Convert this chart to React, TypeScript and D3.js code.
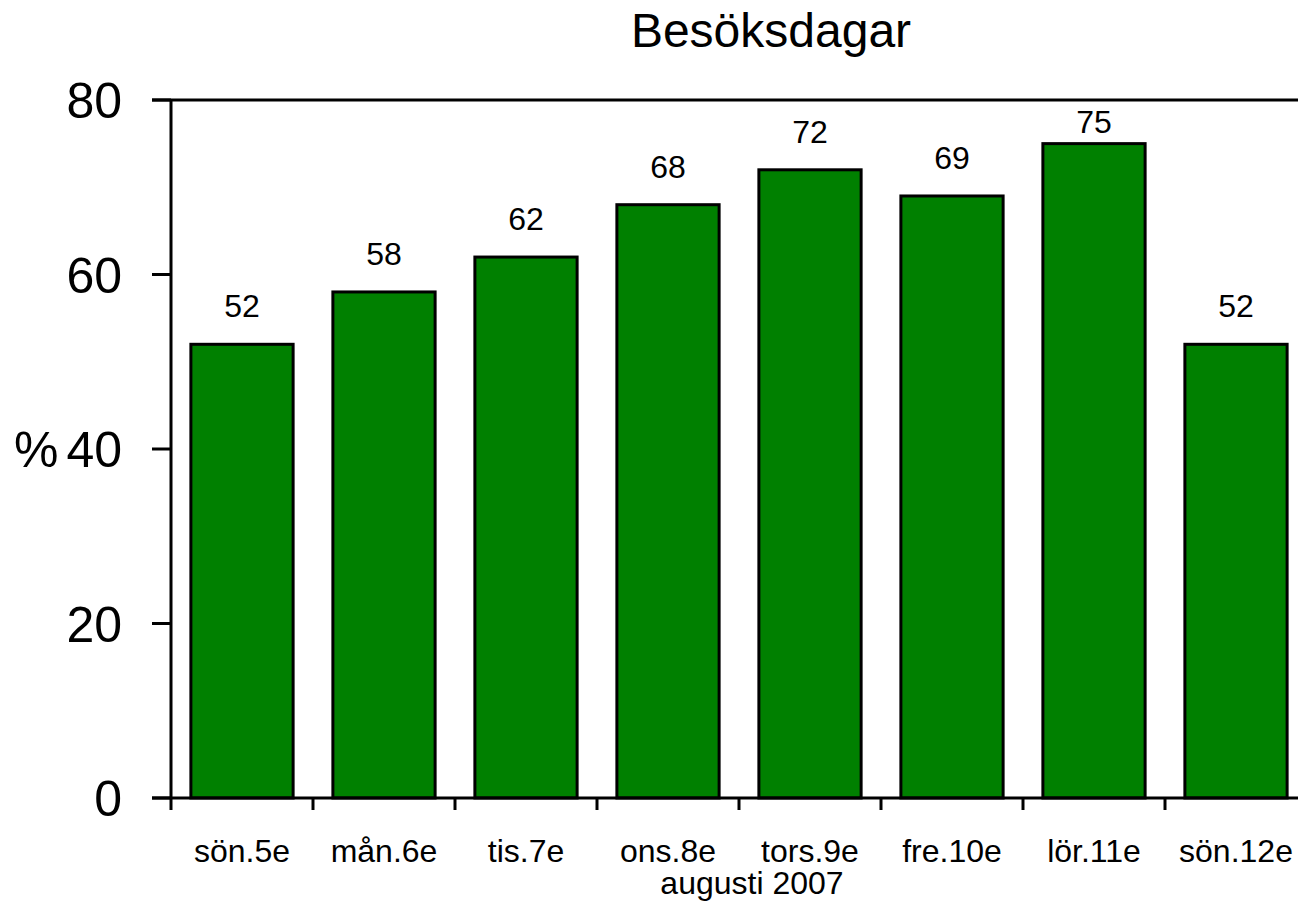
import { useEffect, useRef } from 'react';
import * as d3 from 'd3';

const categories = ['sön.5e', 'mån.6e', 'tis.7e', 'ons.8e', 'tors.9e', 'fre.10e', 'lör.11e', 'sön.12e'];
const values = [52, 58, 62, 68, 72, 69, 75, 52];
const yTicks = [0, 20, 40, 60, 80];
const title = 'Besöksdagar';
const xTitle = 'augusti 2007';
const yTitle = '%';

function App() {
  const width = 1298;
  const height = 911;
  const left = 171;
  const top = 100;
  const bottom = 798;
  const step = 142;
  const font = '"Liberation Sans", Arial, sans-serif';

  const svgRef = useRef<SVGSVGElement>(null);

  useEffect(() => {
    const svg = d3.select(svgRef.current);
    svg.selectAll('*').remove();

    const x = d3
      .scaleBand()
      .domain(categories)
      .range([left, left + step * categories.length])
      .paddingInner(0.28)
      .paddingOuter(0.14);

    const y = d3.scaleLinear().domain([0, 80]).range([bottom, top]);

    // bars
    svg
      .append('g')
      .selectAll('rect')
      .data(values)
      .join('rect')
      .attr('x', (d, i) => x(categories[i])!)
      .attr('y', (d) => y(d))
      .attr('width', x.bandwidth())
      .attr('height', (d) => y(0) - y(d))
      .attr('fill', '#008000')
      .attr('stroke', '#000')
      .attr('stroke-width', 3);

    // value labels (kept below the top frame line)
    svg
      .append('g')
      .selectAll('text')
      .data(values)
      .join('text')
      .attr('x', (d, i) => x(categories[i])! + x.bandwidth() / 2)
      .attr('y', (d) => Math.max(y(d) - 27, top + 33))
      .attr('text-anchor', 'middle')
      .attr('font-family', font)
      .attr('font-size', 32)
      .text((d) => d);

    // y axis
    const yAxis = svg.append('g');
    yAxis
      .append('line')
      .attr('x1', left)
      .attr('x2', left)
      .attr('y1', top)
      .attr('y2', bottom)
      .attr('stroke', '#000')
      .attr('stroke-width', 3);
    yAxis
      .selectAll('line.tick')
      .data(yTicks)
      .join('line')
      .attr('class', 'tick')
      .attr('x1', left - 19)
      .attr('x2', left)
      .attr('y1', (d) => y(d))
      .attr('y2', (d) => y(d))
      .attr('stroke', '#000')
      .attr('stroke-width', 3);
    yAxis
      .selectAll('text')
      .data(yTicks)
      .join('text')
      .attr('x', 122)
      .attr('y', (d) => y(d) + 18)
      .attr('text-anchor', 'end')
      .attr('font-family', font)
      .attr('font-size', 50)
      .text((d) => d);

    svg
      .append('text')
      .attr('x', 14)
      .attr('y', y(40) + 18)
      .attr('font-family', font)
      .attr('font-size', 50)
      .text(yTitle);

    // top frame line
    svg
      .append('line')
      .attr('x1', left - 19)
      .attr('x2', width)
      .attr('y1', top)
      .attr('y2', top)
      .attr('stroke', '#000')
      .attr('stroke-width', 3);

    // x axis
    const xAxis = svg.append('g');
    xAxis
      .append('line')
      .attr('x1', left - 19)
      .attr('x2', width)
      .attr('y1', bottom)
      .attr('y2', bottom)
      .attr('stroke', '#000')
      .attr('stroke-width', 3);
    xAxis
      .selectAll('line.tick')
      .data(categories)
      .join('line')
      .attr('class', 'tick')
      .attr('x1', (d) => x(d)! - x.step() * 0.14)
      .attr('x2', (d) => x(d)! - x.step() * 0.14)
      .attr('y1', bottom)
      .attr('y2', bottom + 12)
      .attr('stroke', '#000')
      .attr('stroke-width', 3);
    xAxis
      .selectAll('text')
      .data(categories)
      .join('text')
      .attr('x', (d) => x(d)! + x.bandwidth() / 2)
      .attr('y', 862)
      .attr('text-anchor', 'middle')
      .attr('font-family', font)
      .attr('font-size', 32)
      .text((d) => d);

    svg
      .append('text')
      .attr('x', 752)
      .attr('y', 894)
      .attr('text-anchor', 'middle')
      .attr('font-family', font)
      .attr('font-size', 32)
      .text(xTitle);

    svg
      .append('text')
      .attr('x', 771)
      .attr('y', 47)
      .attr('text-anchor', 'middle')
      .attr('font-family', font)
      .attr('font-size', 48)
      .text(title);
  }, []);

  return (
    <svg
      ref={svgRef}
      width={width}
      height={height}
      style={{ position: 'absolute', left: 0, top: 0, background: '#fff' }}
    />
  );
}

export default App;
